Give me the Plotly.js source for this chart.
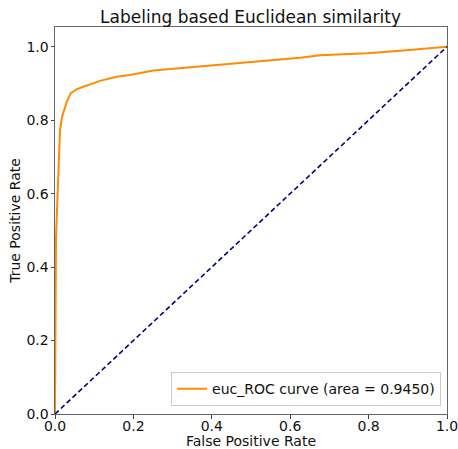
<!DOCTYPE html>
<html>
<head>
<meta charset="utf-8">
<script src="https://cdn.plot.ly/plotly-3.0.1.min.js"></script>
<style>html,body{margin:0;padding:0;background:#fff;}#chart{width:458px;height:449px;}</style>
</head>
<body>
<div id="chart"></div>
<script>
const fpr = [0, 0, 0.0015, 0.0026, 0.006, 0.0094, 0.0128, 0.018, 0.023, 0.030, 0.040, 0.055, 0.072, 0.089, 0.115, 0.157, 0.191, 0.251, 0.336, 0.421, 0.506, 0.592, 0.625, 0.677, 0.760, 0.796, 0.881, 0.940, 1.0];
const tpr = [0, 0.12, 0.30, 0.483, 0.601, 0.719, 0.773, 0.809, 0.828, 0.850, 0.873, 0.884, 0.891, 0.898, 0.907, 0.918, 0.923, 0.935, 0.943, 0.950, 0.960, 0.968, 0.970, 0.977, 0.981, 0.982, 0.989, 0.994, 1.0];
const diagX = [0, 1];
const diagY = [0, 1];
const curveName = 'euc_ROC curve (area = 0.9450)';
const titleText = 'Labeling based Euclidean similarity';
const xTitle = 'False Positive Rate';
const yTitle = 'True Positive Rate';
const tickVals = [0, 0.2, 0.4, 0.6, 0.8, 1.0];
const tickText = ['0.0', '0.2', '0.4', '0.6', '0.8', '1.0'];

const font = 'DejaVu Sans, sans-serif';
const traces = [
  {x: fpr, y: tpr, type: 'scatter', mode: 'lines', name: curveName,
   line: {color: '#FF8C00', width: 2}},
  {x: diagX, y: diagY, type: 'scatter', mode: 'lines', showlegend: false,
   line: {color: '#000080', width: 1.6, dash: '5px,3px'}}
];
const axisCommon = {
  showgrid: false, zeroline: false, showline: true, mirror: true,
  linecolor: '#666', linewidth: 1, ticks: 'outside', ticklen: 3.5, tickwidth: 1,
  tickcolor: '#444', tickfont: {family: font, size: 14, color: '#111'},
  tickvals: tickVals, ticktext: tickText, ticklabeloverflow: 'allow'
};
const layout = {
  width: 458, height: 449,
  margin: {l: 55, r: 11, t: 27, b: 35},
  paper_bgcolor: '#fff', plot_bgcolor: '#fff',
  title: {text: titleText, font: {family: font, size: 17, color: '#111'}, x: 0.547, xanchor: 'center', y: 0.962, yanchor: 'middle'},
  xaxis: Object.assign({}, axisCommon, {range: [0, 1.00001], ticklabelstandoff: -4,
    title: {text: xTitle, font: {family: font, size: 14, color: '#111'}, standoff: 2}}),
  yaxis: Object.assign({}, axisCommon, {range: [0, 1.0536], ticklabelstandoff: -1,
    title: {text: yTitle, font: {family: font, size: 14, color: '#111'}, standoff: 2}}),
  showlegend: true,
  legend: {x: 0.985, xanchor: 'right', y: 0.02, yanchor: 'bottom',
    bordercolor: '#ccc', borderwidth: 1, bgcolor: 'rgba(255,255,255,0.8)',
    itemwidth: 30,
    font: {family: font, size: 14, color: '#111'}}
};
Plotly.newPlot('chart', traces, layout, {staticPlot: true, displayModeBar: false});
</script>
</body>
</html>
